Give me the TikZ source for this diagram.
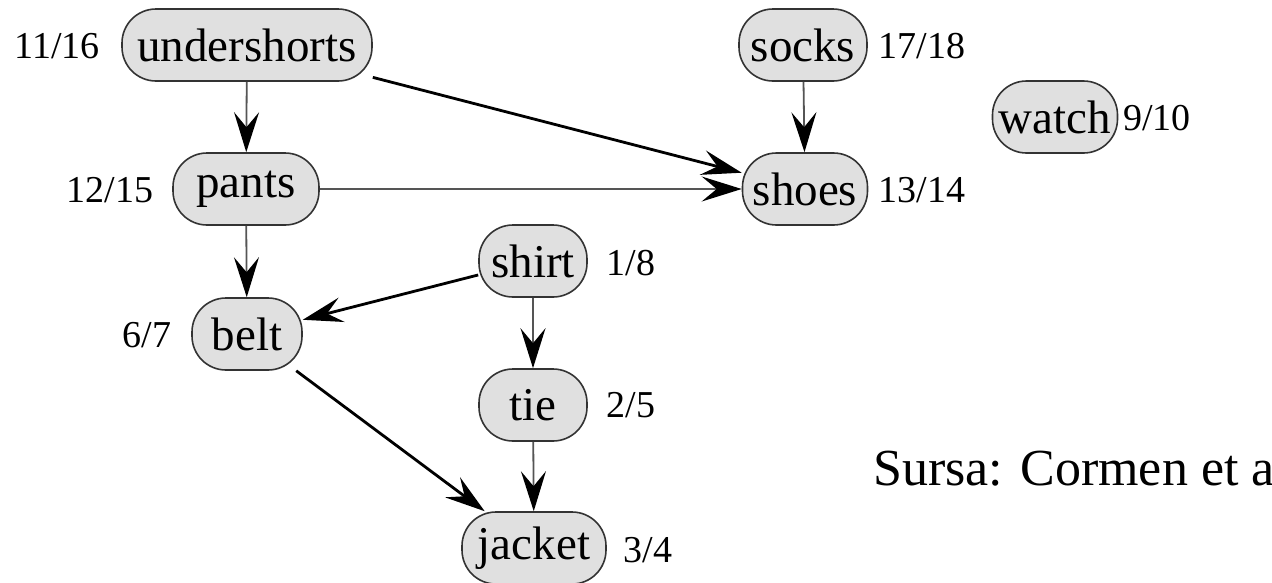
\documentclass[tikz,border=0pt]{standalone}
\usepackage{fontspec}
\setmainfont{Liberation Serif}
\usetikzlibrary{arrows.meta}
\definecolor{vfill}{HTML}{E0E0E0}
\definecolor{vline}{HTML}{333333}
\definecolor{thinedge}{HTML}{555555}
\tikzset{
  vertex/.style={draw=vline, line width=1.6pt, fill=vfill, rounded corners=34pt,
    minimum height=72pt, inner sep=0pt, font=\fontsize{47}{47}\selectfont},
  stamp/.style={font=\fontsize{38}{38}\selectfont, inner sep=0pt},
  tip/.style={-{Stealth[length=40pt, width=25pt, inset=15pt, black]}},
  heavy/.style={tip, line width=2.8pt, draw=black},
  light/.style={tip, line width=1.8pt, draw=thinedge},
}
\begin{document}
\begin{tikzpicture}[x=1pt, y=-1pt]
\useasboundingbox (0,0) rectangle (1272,582);
\clip (0,0) rectangle (1272,582);

% garments
\node[vertex, minimum width=250pt] (undershorts) at (247,45)  {undershorts};
\node[vertex, minimum width=128pt] (socks)       at (803,45)  {socks};
\node[vertex, minimum width=125pt] (watch)       at (1055,117){watch};
\node[vertex, minimum width=146pt] (pants)       at (246,189) {pants};
\node[vertex, minimum width=125pt] (shoes)       at (805,189) {shoes};
\node[vertex, minimum width=108pt] (shirt)       at (533,261) {shirt};
\node[vertex, minimum width=110pt] (belt)        at (247,334) {belt};
\node[vertex, minimum width=108pt] (tie)         at (533,405) {tie};
\node[vertex, minimum width=144pt] (jacket)      at (534,548) {jacket};

% discovery/finishing times
\node[stamp] (tU) at (57,46)    {11/16};
\node[stamp] (tS) at (922,46)   {17/18};
\node[stamp] (tW) at (1157,118) {9/10};
\node[stamp] (tP) at (110,190)  {12/15};
\node[stamp] (tH) at (922,190)  {13/14};
\node[stamp] (tR) at (631,263)  {1/8};
\node[stamp] (tB) at (147,335)  {6/7};
\node[stamp] (tT) at (631,405)  {2/5};
\node[stamp] (tJ) at (648,550)  {3/4};

% dependencies
\draw[light] (undershorts) -- (pants);
\draw[heavy] (undershorts) -- (shoes);
\draw[light] (socks) -- (shoes);
\draw[light] (pants) -- (shoes);
\draw[light] (pants) -- (belt);
\draw[heavy] (shirt) -- (belt);
\draw[light] (shirt) -- (tie);
\draw[heavy] (belt) -- (jacket);
\draw[light] (tie) -- (jacket);

% source note
\node[anchor=base west, inner sep=0pt, font=\fontsize{52}{52}\selectfont] (src) at (873,485) {Sursa: Cormen et al.};
\end{tikzpicture}
\end{document}
